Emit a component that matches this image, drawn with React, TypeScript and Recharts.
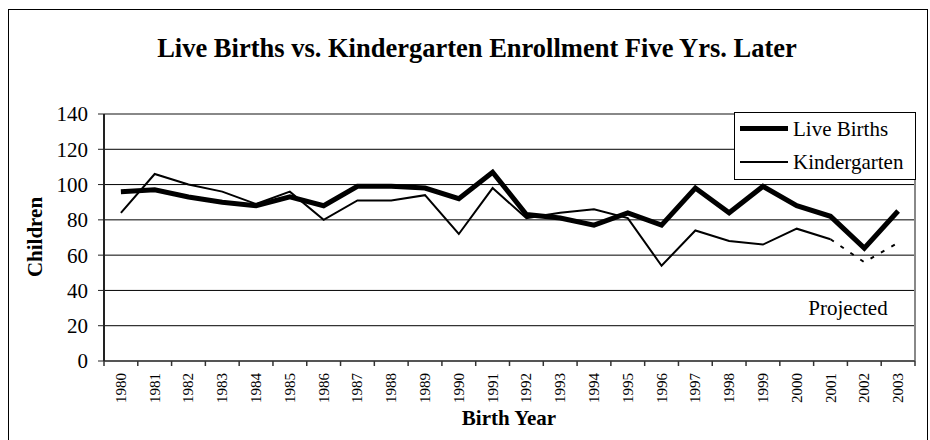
import React from 'react'
import {
  LineChart,
  Line,
  XAxis,
  YAxis,
  CartesianGrid,
  ReferenceLine,
} from 'recharts'

const years = [
  '1980', '1981', '1982', '1983', '1984', '1985', '1986', '1987', '1988', '1989', '1990', '1991',
  '1992', '1993', '1994', '1995', '1996', '1997', '1998', '1999', '2000', '2001', '2002', '2003',
]
const liveBirths = [96, 97, 93, 90, 88, 93, 88, 99, 99, 98, 92, 107, 83, 81, 77, 84, 77, 98, 84, 99, 88, 82, 64, 85]
const kindergarten = [84, 106, 100, 96, 89, 96, 80, 91, 91, 94, 72, 98, 81, 84, 86, 81, 54, 74, 68, 66, 75, 69, null, null]
const projected = [
  null, null, null, null, null, null, null, null, null, null, null, null,
  null, null, null, null, null, null, null, null, null, 69, 56, 67,
]
const yTicks = [0, 20, 40, 60, 80, 100, 120, 140]

const FONT = '"Liberation Serif", "Times New Roman", serif'

const data = years.map((year, i) => ({
  idx: i,
  year,
  births: liveBirths[i],
  kinder: kindergarten[i],
  proj: projected[i],
}))

// labels sit on the whole years, tick marks on the half years (between categories)
const xTicks: number[] = []
for (let i = 0; i < years.length; i++) {
  xTicks.push(i - 0.5)
  xTicks.push(i)
}
xTicks.push(years.length - 0.5)

const XTick = (props: any) => {
  const { x, y, payload } = props
  const v = payload.value
  if (Number.isInteger(v)) {
    return (
      <text
        transform={`translate(${x + 5},${y + 12}) rotate(-90)`}
        textAnchor="end"
        fontSize={15}
        fontFamily={FONT}
        fill="#000"
      >
        {years[v]}
      </text>
    )
  }
  return <line x1={x} x2={x} y1={y} y2={y + 5} stroke="#333" strokeWidth={1.5} />
}

export default function App() {
  return (
    <div style={{ position: 'fixed', left: 0, top: 0, width: 930, height: 440, overflow: 'hidden', background: '#fff', fontFamily: FONT }}>
      {/* outer frame */}
      <div style={{ position: 'absolute', left: 8, top: 9, width: 920, height: 500, border: '1.5px solid #000', boxSizing: 'border-box' }} />

      <LineChart
        width={930}
        height={440}
        data={data}
        margin={{ top: 114, right: 15, left: 54, bottom: 29 }}
      >
        <CartesianGrid vertical={false} stroke="#000" strokeWidth={1} />
        <XAxis
          dataKey="idx"
          type="number"
          domain={[-0.5, 23.5]}
          ticks={xTicks}
          interval={0}
          tickLine={false}
          tickSize={0}
          tickMargin={0}
          tick={<XTick />}
          height={50}
          axisLine={{ stroke: '#555', strokeWidth: 2 }}
        />
        <YAxis
          domain={[0, 140]}
          ticks={yTicks}
          width={50}
          tickSize={6}
          tickMargin={10}
          tickLine={{ stroke: '#222' }}
          axisLine={{ stroke: '#222', strokeWidth: 2 }}
          tick={{ fontSize: 21, fontFamily: FONT, fill: '#000' }}
        />
        <ReferenceLine y={140} stroke="#888" strokeWidth={2} />
        <ReferenceLine x={23.5} stroke="#888" strokeWidth={2} />
        <Line
          type="linear"
          dataKey="kinder"
          stroke="#000"
          strokeWidth={2}
          dot={false}
          activeDot={false}
          isAnimationActive={false}
        />
        <Line
          type="linear"
          dataKey="proj"
          stroke="#000"
          strokeWidth={2}
          strokeDasharray="4 8"
          dot={false}
          activeDot={false}
          isAnimationActive={false}
        />
        <Line
          type="linear"
          dataKey="births"
          stroke="#000"
          strokeWidth={5}
          dot={false}
          activeDot={false}
          isAnimationActive={false}
        />
      </LineChart>

      {/* title */}
      <div style={{ position: 'absolute', left: 0, width: 954, top: 33, textAlign: 'center', fontSize: 26.5, fontWeight: 'bold', lineHeight: '30px', whiteSpace: 'nowrap' }}>
        Live Births vs. Kindergarten Enrollment Five Yrs. Later
      </div>

      {/* y axis title */}
      <div style={{ position: 'absolute', left: 35, top: 237, transform: 'translate(-50%, -50%) rotate(-90deg)', fontSize: 21, fontWeight: 'bold', whiteSpace: 'nowrap', lineHeight: '24px' }}>
        Children
      </div>

      {/* x axis title */}
      <div style={{ position: 'absolute', left: 509, top: 418, transform: 'translate(-50%, -50%)', fontSize: 21, fontWeight: 'bold', whiteSpace: 'nowrap', lineHeight: '24px' }}>
        Birth Year
      </div>

      {/* projected note */}
      <div style={{ position: 'absolute', left: 848, top: 308, transform: 'translate(-50%, -50%)', fontSize: 21, whiteSpace: 'nowrap', lineHeight: '24px' }}>
        Projected
      </div>

      {/* legend */}
      <div style={{ position: 'absolute', left: 734, top: 112, width: 182, height: 68, border: '1.5px solid #000', boxSizing: 'border-box', background: '#fff' }}>
        <div style={{ position: 'absolute', left: 5, top: 13, width: 48, height: 5, background: '#000' }} />
        <div style={{ position: 'absolute', left: 58, top: 2, fontSize: 21, lineHeight: '28px', whiteSpace: 'nowrap' }}>Live Births</div>
        <div style={{ position: 'absolute', left: 5, top: 48, width: 48, height: 2, background: '#000' }} />
        <div style={{ position: 'absolute', left: 58, top: 35, fontSize: 21, lineHeight: '28px', whiteSpace: 'nowrap' }}>Kindergarten</div>
      </div>
    </div>
  )
}
